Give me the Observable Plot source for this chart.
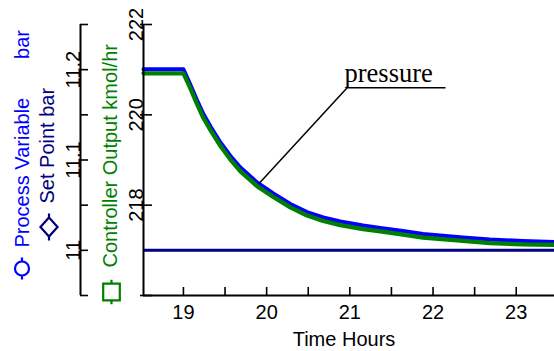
<!DOCTYPE html>
<html><head><meta charset="utf-8">
<script src="https://cdn.jsdelivr.net/npm/d3@7"></script>
<script src="https://cdn.jsdelivr.net/npm/@observablehq/plot@0.6"></script>
<style>
html,body{margin:0;padding:0;background:#fff;}
#chart{position:relative;width:554px;height:351px;overflow:hidden;}
#chart svg{position:absolute;left:0;top:0;overflow:visible;}
</style></head><body><div id="chart"></div>
<script>
// ---- data ----
const times = [18.52, 19.0, 19.085, 19.165, 19.24, 19.325, 19.445, 19.565, 19.685, 19.885, 20.08, 20.285, 20.485, 20.68, 20.885, 21.16, 21.365, 21.64, 21.88, 22.36, 22.685, 23.08, 23.46];
const processVariable = [11.2005, 11.2005, 11.1830, 11.1659, 11.1509, 11.1371, 11.1194, 11.1044, 11.0917, 11.0751, 11.0629, 11.0513, 11.0424, 11.0364, 11.0319, 11.0275, 11.0247, 11.0214, 11.0181, 11.0142, 11.0120, 11.0103, 11.0092];
const controllerOutput = [220.92, 220.92, 220.58, 220.23, 219.93, 219.66, 219.31, 219.01, 218.75, 218.42, 218.18, 217.95, 217.77, 217.65, 217.56, 217.47, 217.42, 217.35, 217.28, 217.21, 217.16, 217.13, 217.12];
const setPoint = [11.0];

const xDomain = [18.52, 23.46];
const xTicks = [19, 19.5, 20, 20.5, 21, 21.5, 22, 22.5, 23];
const xTickLabels = [19, 20, 21, 22, 23];
const pvDomain = [10.95, 11.25];
const pvTicks = [10.95, 11, 11.05, 11.1, 11.15, 11.2, 11.25];
const pvTickLabels = [11, 11.1, 11.2];
const coDomain = [216, 222];
const coTicks = [216, 218, 220, 222];
const coTickLabels = [218, 220, 222];

const xTitle = ["Time Hours"];
const pvTitle = ["Process Variable\u00a0\u00a0\u00a0\u00a0\u00a0\u00a0\u00a0bar"];
const spTitle = ["Set Point bar"];
const coTitle = ["Controller Output kmol/hr"];

const annotationText = ["pressure"];
const annotationTextPos = [{x: 20.936, y: 11.1858}];
const annotationUnderline = [{x1: 20.968, y1: 11.180, x2: 22.150, y2: 11.180}];
const annotationLeader = [{x1: 20.968, y1: 11.180, x2: 19.906, y2: 11.0736}];

// ---- colours ----
const BLUE = "#0000ff", NAVY = "#000080", GREEN = "#008000";
const SANS = "'Liberation Sans', Arial, sans-serif";

const pvRows = times.map((t, i) => ({t, v: processVariable[i]}));
const coRows = times.map((t, i) => ({t, v: controllerOutput[i]}));

// legend symbols with short vertical stubs
function stubbed(shape) {
  return {draw(ctx, size) {
    const r = Math.sqrt(size / Math.PI);
    if (shape === "circle") { ctx.moveTo(r, 0); ctx.arc(0, 0, r, 0, 2 * Math.PI); }
    else if (shape === "diamond") { const w = r * 0.9; ctx.moveTo(0, -r); ctx.lineTo(w, 0); ctx.lineTo(0, r); ctx.lineTo(-w, 0); ctx.closePath(); }
    else { ctx.moveTo(-r, -r); ctx.lineTo(r, -r); ctx.lineTo(r, r); ctx.lineTo(-r, r); ctx.closePath(); }
    ctx.moveTo(0, -r); ctx.lineTo(0, -r - 4);
    ctx.moveTo(0, r); ctx.lineTo(0, r + 4);
  }};
}

const H = 351, MT = 24, MB = 56;
const common = {height: H, marginTop: MT, marginBottom: MB};
const baseStyle = {background: "transparent", fontFamily: SANS, fontSize: "20px", color: "black", overflow: "visible"};

// ---- outer axis (bar) + titles ----
const outer = Plot.plot({
  ...common, width: 143, marginLeft: 80, marginRight: 0,
  style: baseStyle,
  x: {domain: [0, 1], axis: null},
  y: {domain: pvDomain},
  marks: [
    Plot.ruleX([0], {stroke: "black", strokeWidth: 2}),
    Plot.tickY(pvTicks, {y: d => d, stroke: "black", strokeWidth: 1.6, insetRight: 55}),
    Plot.axisY({ticks: pvTickLabels, tickSize: 0, tickRotate: -90, tickPadding: 1, label: null, tickFormat: d => String(d), fill: "black"}),
    Plot.text(pvTitle, {frameAnchor: "top-left", dx: -52, dy: 223, rotate: -90, textAnchor: "start", lineAnchor: "bottom", fill: BLUE, fontSize: 20}),
    Plot.text(spTitle, {frameAnchor: "top-left", dx: -27, dy: 179, rotate: -90, textAnchor: "start", lineAnchor: "bottom", fill: NAVY, fontSize: 20}),
    Plot.text(coTitle, {frameAnchor: "top-left", dx: 36.5, dy: 243, rotate: -90, textAnchor: "start", lineAnchor: "bottom", fill: GREEN, fontSize: 20}),
    Plot.dot([0], {frameAnchor: "top-left", dx: -58.5, dy: 244, r: 7, symbol: stubbed("circle"), stroke: BLUE, strokeWidth: 2.2, fill: "none"}),
    Plot.dot([0], {frameAnchor: "top-left", dx: -31.5, dy: 202.5, r: 9.5, symbol: stubbed("diamond"), stroke: NAVY, strokeWidth: 2.2, fill: "none"}),
    Plot.dot([0], {frameAnchor: "top-left", dx: 31, dy: 267.5, r: 8.3, symbol: stubbed("square"), stroke: GREEN, strokeWidth: 2.2, fill: "none"})
  ]
});

// ---- main plot (bar scale): PV, SP, x axis, annotation ----
const main = Plot.plot({
  ...common, width: 554, marginLeft: 143, marginRight: 0,
  style: baseStyle,
  x: {domain: xDomain},
  y: {domain: pvDomain, axis: null},
  marks: [
    Plot.line(pvRows, {x: "t", y: "v", stroke: BLUE, strokeWidth: 4, strokeLinejoin: "round"}),
    Plot.ruleY(setPoint, {stroke: NAVY, strokeWidth: 3}),
    Plot.ruleY([pvDomain[0]], {stroke: "black", strokeWidth: 2}),
    Plot.tickX(xTicks, {x: d => d, stroke: "black", strokeWidth: 1.6, insetTop: 271 - 8}),
    Plot.axisX({ticks: xTickLabels, tickSize: 0, tickPadding: 9, label: null, tickFormat: d => String(d), fill: "black"}),
    Plot.text(xTitle, {frameAnchor: "bottom", dx: -5, dy: 50, lineAnchor: "bottom", fill: "black", fontSize: 20}),
    Plot.link(annotationUnderline, {x1: "x1", y1: "y1", x2: "x2", y2: "y2", stroke: "black", strokeWidth: 1.5}),
    Plot.link(annotationLeader, {x1: "x1", y1: "y1", x2: "x2", y2: "y2", stroke: "black", strokeWidth: 1.5}),
    Plot.text(annotationTextPos, {x: "x", y: "y", text: () => annotationText[0], textAnchor: "start", lineAnchor: "bottom", fontFamily: "'Liberation Serif', 'Times New Roman', serif", fontSize: 26.5, fill: "black"})
  ]
});

// ---- overlay (kmol/hr scale): CO line + inner axis ----
const inner = Plot.plot({
  ...common, width: 554, marginLeft: 143, marginRight: 0,
  style: baseStyle,
  x: {domain: xDomain, axis: null},
  y: {domain: coDomain},
  marks: [
    Plot.line(coRows, {x: "t", y: "v", stroke: GREEN, strokeWidth: 4.3, strokeLinejoin: "round"}),
    Plot.ruleX([xDomain[0]], {stroke: "black", strokeWidth: 2}),
    Plot.tickY(coTicks, {y: d => d, stroke: "black", strokeWidth: 1.6, insetRight: 411 - 12, dx: -3}),
    Plot.axisY({ticks: coTickLabels, tickSize: 0, tickRotate: -90, tickPadding: 1, label: null, tickFormat: d => String(d), fill: "black"})
  ]
});

const chart = document.getElementById("chart");
chart.append(outer, main, inner);
</script></body></html>
